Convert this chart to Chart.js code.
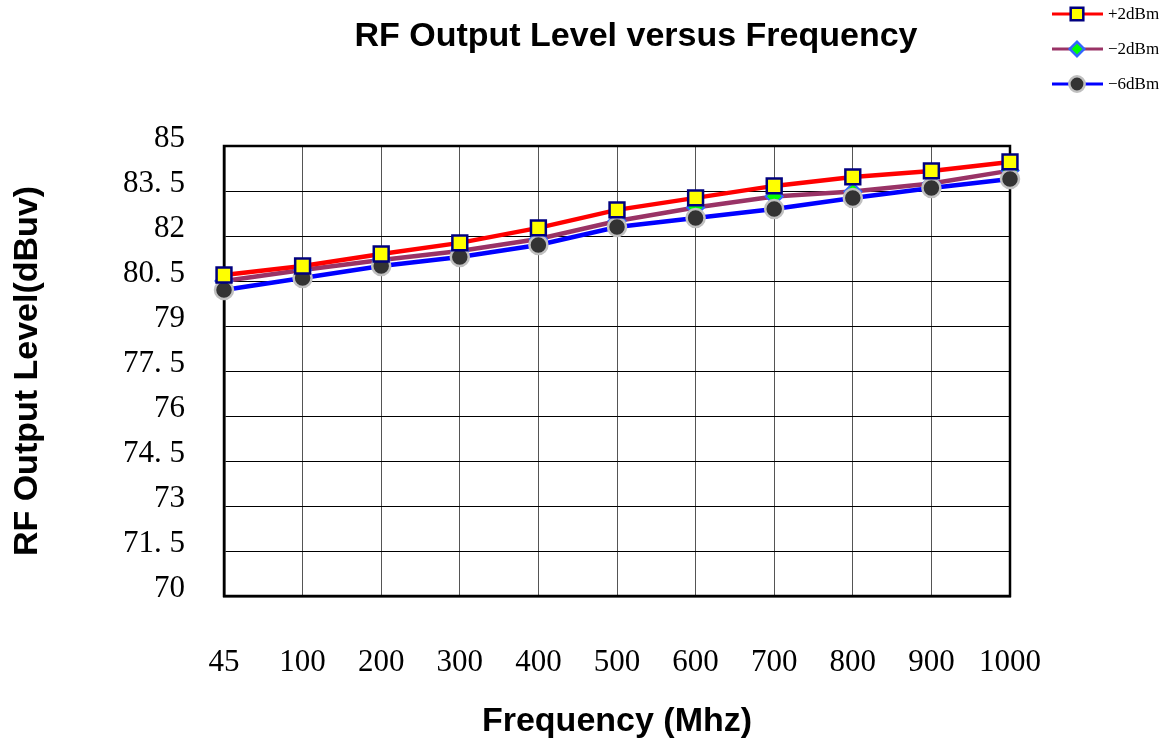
<!DOCTYPE html>
<html>
<head>
<meta charset="utf-8">
<script src="https://cdn.jsdelivr.net/npm/chart.js@4/dist/chart.umd.min.js"></script>
<style>
    html, body { margin: 0; padding: 0; background: #fff; }
    #wrap { width: 1167px; height: 746px; }
</style>
</head>
<body>
<div id="wrap"><canvas id="rfChart"></canvas></div>
<script>
// frequencies (MHz)
const frequencies = ["45", "100", "200", "300", "400", "500", "600", "700", "800", "900", "1000"];

// output level (dBuv) per input level
const plus2dBm  = [80.7, 81.0, 81.4, 81.77, 82.27, 82.87, 83.27, 83.67, 83.97, 84.17, 84.47];
const minus2dBm = [80.5, 80.87, 81.2, 81.5, 81.9, 82.5, 82.95, 83.32, 83.48, 83.75, 84.18];
const minus6dBm = [80.2, 80.6, 81.0, 81.3, 81.7, 82.3, 82.6, 82.9, 83.27, 83.6, 83.9];

const seriesNames = ["+2dBm", "\u22122dBm", "\u22126dBm"];

const yMin = 70;
const yMax = 85;
const yStep = 1.5;

const titleText = "RF Output Level versus Frequency";

// thick frame round the plot, under the marks
const framePlugin = {
    id: "frame",
    beforeDatasetsDraw(chart) {
        const a = chart.chartArea;
        const c = chart.ctx;
        c.save();
        c.strokeStyle = "#000";
        c.lineWidth = 2.5;
        c.strokeRect(a.left, a.top, a.right - a.left, a.bottom - a.top);
        c.restore();
    }
};

// title + legend in the top band
const topTextPlugin = {
    id: "topText",
    afterDraw(chart) {
        const c = chart.ctx;
        c.save();
        c.fillStyle = "#000";
        c.font = "bold 34px 'Liberation Sans', Arial, sans-serif";
        c.textAlign = "center";
        c.textBaseline = "middle";
        c.fillText(titleText, 636, 37);

        const rows = [14, 49, 84];
        chart.data.datasets.forEach((ds, i) => {
            const y = rows[i];
            c.strokeStyle = ds.borderColor;
            c.lineWidth = 3;
            c.beginPath();
            c.moveTo(1052, y);
            c.lineTo(1103, y);
            c.stroke();

            c.fillStyle = ds.pointBackgroundColor;
            c.strokeStyle = ds.pointBorderColor;
            c.lineWidth = 2.5;
            Chart.helpers.drawPoint(c, {
                pointStyle: ds.pointStyle,
                radius: ds.pointRadius * 0.85,
                rotation: 0,
                borderWidth: 2.5
            }, 1077, y);

            c.fillStyle = "#000";
            c.font = "17px 'Liberation Serif', 'DejaVu Serif', serif";
            c.textAlign = "left";
            c.textBaseline = "middle";
            c.fillText(ds.label, 1108, y + 1);
        });
        c.restore();
    }
};

const ctx = document.getElementById("rfChart");

new Chart(ctx, {

    type: "line",

    data: {

        labels: frequencies,

        datasets: [

            {
                label: seriesNames[0],
                data: plus2dBm,
                borderColor: "#ff0000",
                borderWidth: 4.5,
                pointStyle: "rect",
                pointRadius: 10.5,
                pointBackgroundColor: "#ffff00",
                pointBorderColor: "#000080",
                pointBorderWidth: 2.5,
                order: 1
            },

            {
                label: seriesNames[1],
                data: minus2dBm,
                borderColor: "#993366",
                borderWidth: 4.5,
                pointStyle: "rectRot",
                pointRadius: 8.5,
                pointBackgroundColor: "#00ff00",
                pointBorderColor: "#3366ff",
                pointBorderWidth: 2,
                order: 3
            },

            {
                label: seriesNames[2],
                data: minus6dBm,
                borderColor: "#0000ff",
                borderWidth: 4.5,
                pointStyle: "circle",
                pointRadius: 9,
                pointBackgroundColor: "#333333",
                pointBorderColor: "#c0c0c0",
                pointBorderWidth: 2.5,
                order: 2
            }

        ]

    },

    options: {

        responsive: true,

        maintainAspectRatio: false,

        animation: false,

        layout: {
            padding: { top: 146, right: 157, left: 0, bottom: 0 }
        },

        plugins: {
            legend: { display: false },
            title: { display: false },
            tooltip: { enabled: false }
        },

        scales: {

            x: {
                offset: false,
                afterFit(scale) { scale.height = 150; },
                grid: {
                    color: "#555",
                    lineWidth: 1,
                    drawTicks: false
                },
                border: { display: true, color: "#000", width: 2.5 },
                ticks: {
                    color: "#000",
                    padding: 48,
                    maxRotation: 0,
                    autoSkip: false,
                    font: { family: "'Liberation Serif', 'DejaVu Serif', serif", size: 31 }
                },
                title: {
                    display: true,
                    text: "Frequency (Mhz)",
                    color: "#000",
                    padding: { top: 0, bottom: 4 },
                    font: { family: "'Liberation Sans', Arial, sans-serif", size: 34, weight: "bold" }
                }
            },

            y: {
                min: yMin,
                max: yMax,
                afterFit(scale) { scale.width = 224; },
                grid: {
                    color: "#000",
                    lineWidth: 1,
                    drawTicks: false
                },
                border: { display: true, color: "#000", width: 2.5 },
                ticks: {
                    stepSize: yStep,
                    color: "#000",
                    padding: 39,
                    labelOffset: -7,
                    font: { family: "'Liberation Serif', 'DejaVu Serif', serif", size: 31 },
                    callback: (v) => Number.isInteger(v) ? String(v) : v.toFixed(1).replace(".", ". ")
                },
                title: {
                    display: true,
                    text: "RF Output Level(dBuv)",
                    color: "#000",
                    padding: { top: 7, bottom: 0 },
                    font: { family: "'Liberation Sans', Arial, sans-serif", size: 34, weight: "bold" }
                }
            }

        }

    },

    plugins: [framePlugin, topTextPlugin]

});
</script>
</body>
</html>
